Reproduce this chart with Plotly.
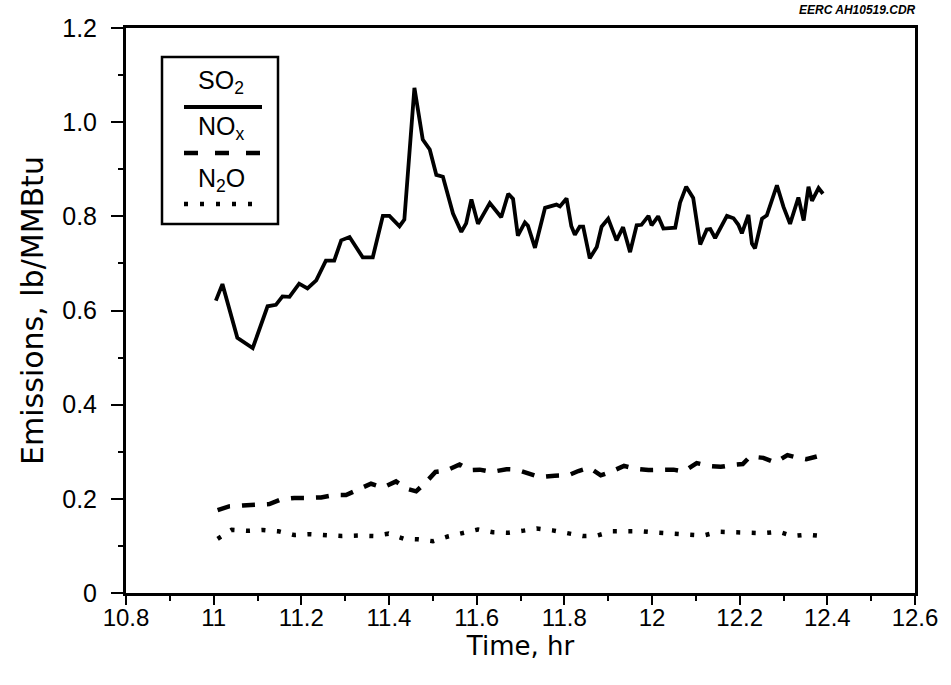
import plotly.graph_objects as go

# ---- data ----
so2_t = [11.005, 11.020, 11.054, 11.089, 11.123, 11.142, 11.157, 11.173, 11.195, 11.214,
         11.234, 11.256, 11.275, 11.291, 11.310, 11.340, 11.363, 11.386, 11.401, 11.424,
         11.435, 11.458, 11.477, 11.493, 11.508, 11.523, 11.546, 11.565, 11.576, 11.588,
         11.603, 11.630, 11.656, 11.672, 11.683, 11.694, 11.710, 11.717, 11.733, 11.756,
         11.782, 11.790, 11.805, 11.816, 11.824, 11.835, 11.843, 11.858, 11.874, 11.885,
         11.900, 11.919, 11.934, 11.950, 11.965, 11.976, 11.992, 11.999, 12.014, 12.026,
         12.053, 12.064, 12.078, 12.094, 12.110, 12.125, 12.133, 12.144, 12.171, 12.186,
         12.197, 12.205, 12.220, 12.228, 12.235, 12.251, 12.262, 12.285, 12.300, 12.315,
         12.334, 12.346, 12.357, 12.365, 12.380, 12.390]
so2_v = [0.621, 0.656, 0.542, 0.520, 0.609, 0.612, 0.630, 0.629, 0.657, 0.647,
         0.664, 0.706, 0.706, 0.749, 0.756, 0.713, 0.713, 0.801, 0.801, 0.779,
         0.793, 1.073, 0.963, 0.942, 0.888, 0.884, 0.806, 0.767, 0.785, 0.836,
         0.784, 0.828, 0.798, 0.848, 0.837, 0.759, 0.787, 0.780, 0.733, 0.818,
         0.825, 0.821, 0.838, 0.779, 0.761, 0.778, 0.778, 0.711, 0.735, 0.778,
         0.795, 0.749, 0.777, 0.724, 0.781, 0.782, 0.801, 0.781, 0.800, 0.774,
         0.776, 0.829, 0.863, 0.839, 0.740, 0.772, 0.773, 0.754, 0.801, 0.796,
         0.782, 0.764, 0.803, 0.742, 0.732, 0.795, 0.802, 0.866, 0.820, 0.784,
         0.840, 0.791, 0.863, 0.833, 0.860, 0.848]

nox_t = [11.009, 11.035, 11.066, 11.095, 11.127, 11.154, 11.184, 11.212, 11.245, 11.273,
         11.302, 11.330, 11.359, 11.386, 11.416, 11.439, 11.462, 11.485, 11.506, 11.531,
         11.561, 11.584, 11.607, 11.634, 11.668, 11.691, 11.721, 11.744, 11.778, 11.809,
         11.832, 11.857, 11.883, 11.908, 11.936, 11.961, 11.992, 12.018, 12.049, 12.073,
         12.102, 12.129, 12.157, 12.184, 12.207, 12.224, 12.254, 12.281, 12.309, 12.334,
         12.352, 12.376]
nox_v = [0.176, 0.184, 0.186, 0.187, 0.189, 0.199, 0.202, 0.202, 0.203, 0.208,
         0.208, 0.220, 0.232, 0.224, 0.237, 0.222, 0.216, 0.236, 0.257, 0.260,
         0.273, 0.261, 0.262, 0.257, 0.263, 0.262, 0.253, 0.246, 0.249, 0.250,
         0.259, 0.266, 0.250, 0.258, 0.270, 0.264, 0.261, 0.262, 0.262, 0.258,
         0.276, 0.270, 0.268, 0.272, 0.274, 0.290, 0.287, 0.277, 0.293, 0.287,
         0.284, 0.290]

n2o_t = [11.009, 11.041, 11.077, 11.112, 11.148, 11.184, 11.220, 11.256, 11.292, 11.329,
         11.365, 11.399, 11.435, 11.466, 11.500, 11.534, 11.569, 11.603, 11.637, 11.673,
         11.704, 11.737, 11.773, 11.809, 11.842, 11.875, 11.909, 11.944, 11.979, 12.014,
         12.050, 12.085, 12.117, 12.152, 12.186, 12.222, 12.254, 12.289, 12.321, 12.354,
         12.387]
n2o_v = [0.115, 0.134, 0.132, 0.134, 0.131, 0.123, 0.125, 0.122, 0.121, 0.122,
         0.121, 0.126, 0.115, 0.114, 0.110, 0.120, 0.127, 0.135, 0.129, 0.128,
         0.132, 0.137, 0.133, 0.126, 0.121, 0.122, 0.131, 0.131, 0.131, 0.128,
         0.126, 0.123, 0.122, 0.130, 0.130, 0.128, 0.127, 0.130, 0.121, 0.124,
         0.121]

x_ticks = [10.8, 11.0, 11.2, 11.4, 11.6, 11.8, 12.0, 12.2, 12.4, 12.6]
x_tick_labels = ["10.8", "11", "11.2", "11.4", "11.6", "11.8", "12", "12.2", "12.4", "12.6"]
y_ticks = [0, 0.2, 0.4, 0.6, 0.8, 1.0, 1.2]
y_tick_labels = ["0", "0.2", "0.4", "0.6", "0.8", "1.0", "1.2"]

FONT = "Liberation Sans, Arial, sans-serif"
TFONT = "DejaVu Sans, Liberation Sans, sans-serif"

L, R, T, B = 126, 36, 28, 92
PW, PH = 951 - L - R, 685 - T - B

fig = go.Figure()
fig.add_trace(go.Scatter(x=so2_t, y=so2_v, mode="lines", name="SO2",
                         line=dict(color="black", width=3.8)))
fig.add_trace(go.Scatter(x=nox_t, y=nox_v, mode="lines", name="NOx",
                         line=dict(color="black", width=4.5, dash="13px,12px")))
fig.add_trace(go.Scatter(x=n2o_t, y=n2o_v, mode="lines", name="N2O",
                         line=dict(color="black", width=4.5, dash="4px,11.5px")))

fig.update_layout(
    width=951, height=685,
    margin=dict(l=L, r=R, t=T, b=B),
    paper_bgcolor="white", plot_bgcolor="white",
    showlegend=False,
    font=dict(family=FONT, color="black", size=24),
    xaxis=dict(range=[10.8, 12.6], tickvals=x_ticks, ticktext=x_tick_labels,
               showgrid=False, zeroline=False, showline=True, linecolor="black",
               linewidth=3, mirror=True, ticks="outside", ticklen=9, tickwidth=2,
               tickcolor="black", tickfont=dict(size=24, family=FONT),
               ticklabelstandoff=-8,
               minor=dict(dtick=0.1, tick0=10.8, ticks="outside", ticklen=5,
                          tickwidth=2, tickcolor="black"),
               title=dict(text="Time, hr", font=dict(size=26, family=TFONT), standoff=8)),
    yaxis=dict(range=[0, 1.2], tickvals=y_ticks, ticktext=y_tick_labels,
               showgrid=False, zeroline=False, showline=True, linecolor="black",
               linewidth=3, mirror=True, ticks="outside", ticklen=12, tickwidth=2,
               tickcolor="black", tickfont=dict(size=25, family=FONT),
               ticklabelstandoff=9,
               minor=dict(dtick=0.1, tick0=0, ticks="outside", ticklen=5,
                          tickwidth=2, tickcolor="black"),
               title=dict(text="Emissions, lb/MMBtu", font=dict(size=30, family=TFONT),
                          standoff=10)),
)

# ---- hand-drawn style legend box (pixel positions -> paper coords) ----
def px(xp):
    return (xp - L) / PW

def py(yp):
    return (685 - B - yp) / PH

fig.add_shape(type="rect", xref="paper", yref="paper",
              x0=px(162), x1=px(278), y0=py(224), y1=py(57),
              line=dict(color="black", width=2.5), fillcolor="white", layer="above")
legend_items = [("SO<sub>2</sub>", 82, 107, "solid", 3.8),
                ("NO<sub>x</sub>", 128, 153, "14px,17px", 4.5),
                ("N<sub>2</sub>O", 180, 204, "4px,12px", 4.5)]
for label, ty, ly, dash, w in legend_items:
    fig.add_annotation(x=px(221), y=py(ty), xref="paper", yref="paper",
                       text=label, showarrow=False, xanchor="center", yanchor="middle",
                       font=dict(size=25, family=FONT, color="black"))
    fig.add_shape(type="line", xref="paper", yref="paper", layer="above",
                  x0=px(184), x1=px(262), y0=py(ly), y1=py(ly),
                  line=dict(color="black", width=w, dash=dash))

fig.add_annotation(x=px(918), y=py(10), xref="paper", yref="paper",
                   text="<b><i>EERC AH10519.CDR</i></b>", showarrow=False,
                   xanchor="right", yanchor="middle",
                   font=dict(size=12, family=FONT, color="black"))

fig.write_html("out.html")
